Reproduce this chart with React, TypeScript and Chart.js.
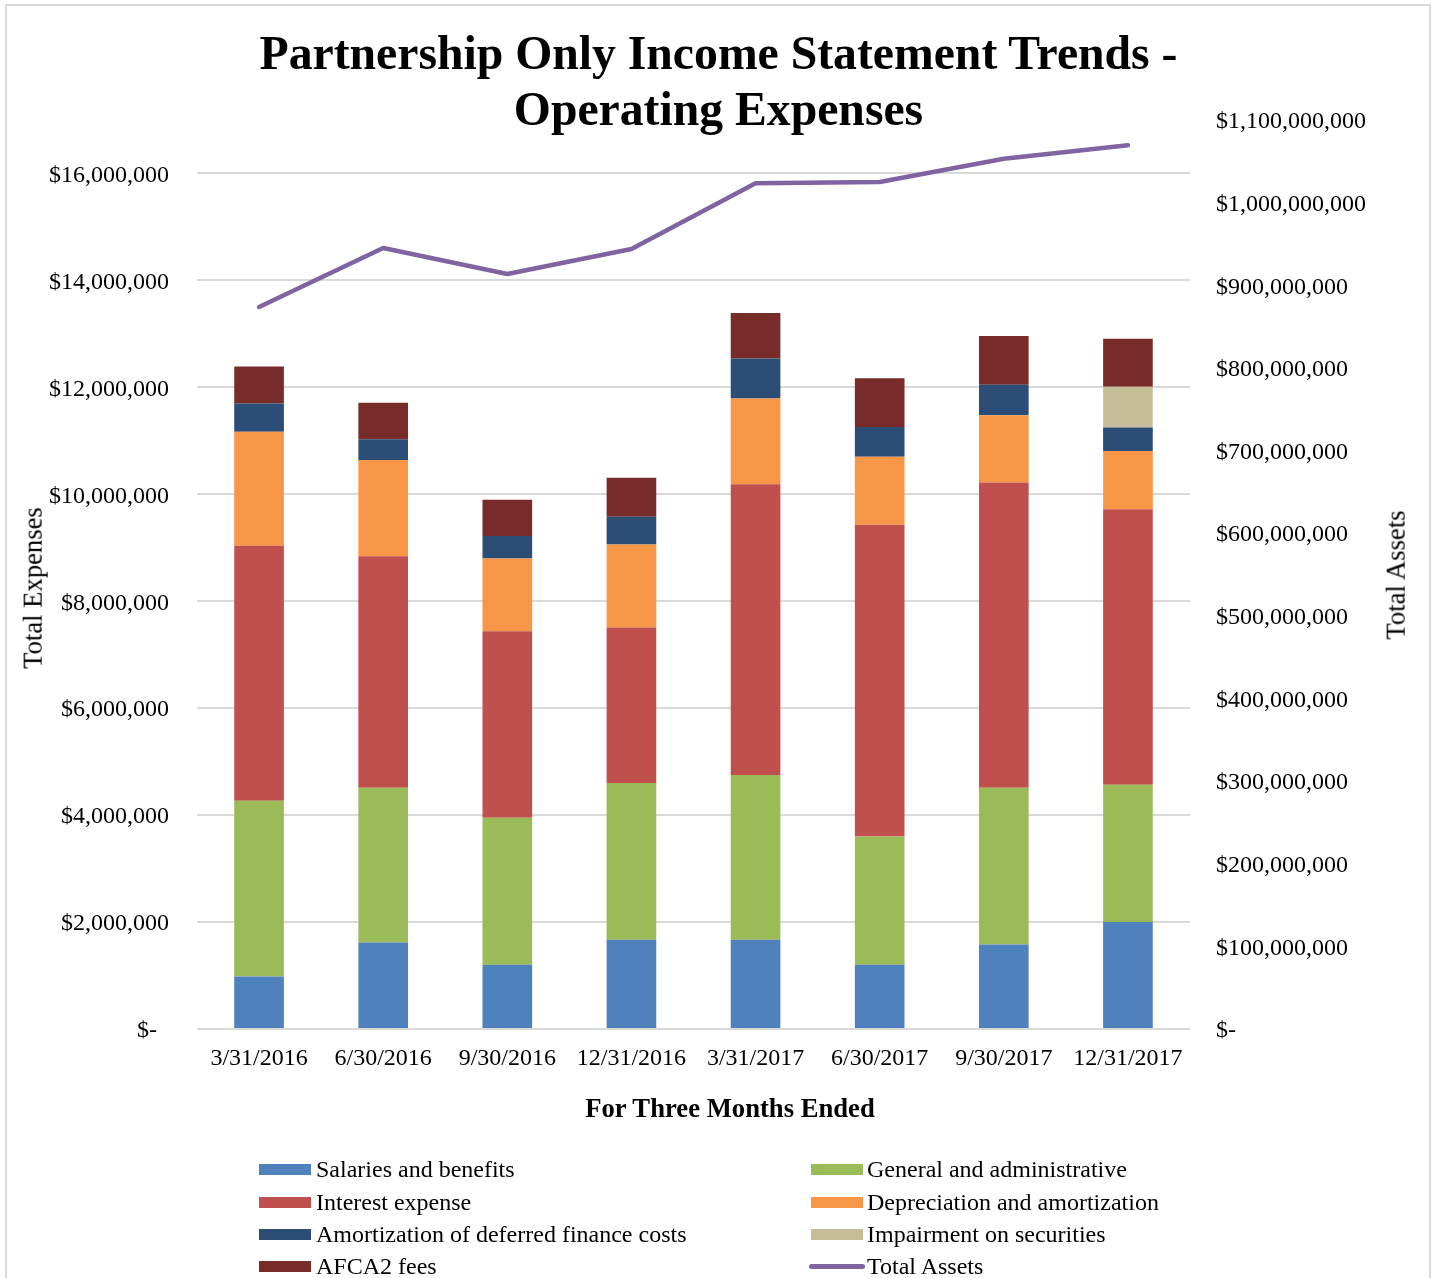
import React, { useEffect, useRef } from 'react';
import { Chart, registerables } from 'chart.js';

Chart.register(...registerables);

const categories = ['3/31/2016', '6/30/2016', '9/30/2016', '12/31/2016', '3/31/2017', '6/30/2017', '9/30/2017', '12/31/2017'];

const salaries = [980000, 1620000, 1200000, 1670000, 1670000, 1200000, 1580000, 2000000];
const generalAdmin = [3290000, 2890000, 2750000, 2930000, 3080000, 2400000, 2930000, 2570000];
const interestExpense = [4770000, 4330000, 3490000, 2910000, 5440000, 5830000, 5710000, 5150000];
const depreciation = [2130000, 1800000, 1360000, 1550000, 1600000, 1270000, 1260000, 1090000];
const amortization = [530000, 390000, 420000, 520000, 750000, 560000, 570000, 440000];
const impairment = [null, null, null, null, null, null, null, 760000];
const afca2Fees = [690000, 680000, 680000, 730000, 850000, 910000, 910000, 900000];
const totalAssets = [873700000, 945100000, 913600000, 943900000, 1023400000, 1025000000, 1053200000, 1069400000];

const leftTickValues = [0, 2000000, 4000000, 6000000, 8000000, 10000000, 12000000, 14000000, 16000000];
const leftAxisMax = 17000000;
const rightTickValues = [0, 100000000, 200000000, 300000000, 400000000, 500000000, 600000000, 700000000, 800000000, 900000000, 1000000000, 1100000000];
const rightAxisMax = 1100000000;

const titleLines = ['Partnership Only Income Statement Trends -', 'Operating Expenses'];
const xTitle = 'For Three Months Ended';
const yLeftTitle = 'Total Expenses';
const yRightTitle = 'Total Assets';

const seriesNames = [
  'Salaries and benefits',
  'General and administrative',
  'Interest expense',
  'Depreciation and amortization',
  'Amortization of deferred finance costs',
  'Impairment on securities',
  'AFCA2 fees',
];
const seriesColors = ['#4F81BD', '#9BBB59', '#C0504D', '#F79646', '#2C4D75', '#C4BD97', '#772C2A'];
const seriesData = [salaries, generalAdmin, interestExpense, depreciation, amortization, impairment, afca2Fees];
const lineName = 'Total Assets';
const lineColor = '#8064A2';

const FONT = "'Liberation Serif', 'Times New Roman', serif";

function money(v: number, padZero: string) {
  if (v === 0) return '$-' + padZero;
  return '$' + Math.round(v).toLocaleString('en-US');
}

export default function App() {
  const ref = useRef<HTMLCanvasElement | null>(null);

  useEffect(() => {
    if (!ref.current) return;
    const barSets = seriesNames.map((name, i) => ({
      type: 'bar' as const,
      label: name,
      data: seriesData[i] as any,
      backgroundColor: seriesColors[i],
      borderWidth: 0,
      yAxisID: 'y',
      stack: 'exp',
      order: 1,
      barPercentage: 0.4,
      categoryPercentage: 1,
    }));
    const chart = new Chart(ref.current, {
      type: 'bar',
      data: {
        labels: categories,
        datasets: [
          {
            type: 'line' as const,
            label: lineName,
            data: totalAssets,
            yAxisID: 'y1',
            borderColor: lineColor,
            backgroundColor: lineColor,
            borderWidth: 4.5,
            pointRadius: 0,
            pointHoverRadius: 0,
            tension: 0,
            order: 0,
            borderCapStyle: 'round',
            borderJoinStyle: 'round',
          } as any,
          ...barSets,
        ],
      },
      options: {
        responsive: false,
        animation: false,
        devicePixelRatio: 1,
        layout: { padding: { top: 120, left: 20, right: 25, bottom: 189 } },
        plugins: {
          legend: { display: false },
          title: { display: false },
          tooltip: { enabled: false },
        },
        scales: {
          x: {
            stacked: true,
            grid: { display: false, drawTicks: false },
            border: { display: false },
            ticks: {
              color: '#000',
              font: { family: FONT, size: 24 },
              padding: 15,
              maxRotation: 0,
              autoSkip: false,
            },
            afterFit: (s: any) => {
              s.height = 60;
            },
          },
          y: {
            stacked: true,
            position: 'left',
            min: 0,
            max: leftAxisMax,
            grid: { color: '#d9d9d9', lineWidth: 2, drawTicks: false },
            border: { display: false },
            ticks: {
              color: '#000',
              font: { family: FONT, size: 24 },
              padding: 28,
              autoSkip: false,
              labelOffset: 2,
              callback: (v: any) => money(Number(v), '  '),
            },
            afterBuildTicks: (s: any) => {
              s.ticks = leftTickValues.map((value) => ({ value }));
            },
            afterFit: (s: any) => {
              s.width = 177;
            },
          },
          y1: {
            position: 'right',
            min: 0,
            max: rightAxisMax,
            grid: { display: false, drawTicks: false },
            border: { display: false },
            ticks: {
              color: '#000',
              font: { family: FONT, size: 24 },
              padding: 26,
              autoSkip: false,
              labelOffset: 2,
              callback: (v: any) => money(Number(v), ''),
            },
            afterBuildTicks: (s: any) => {
              s.ticks = rightTickValues.map((value) => ({ value }));
            },
            afterFit: (s: any) => {
              s.width = 220;
            },
          },
        },
      } as any,
    });
    return () => chart.destroy();
  }, []);

  const legendRows = [1169, 1202, 1234, 1266];
  const legendOrder = [
    { name: seriesNames[0], color: seriesColors[0], col: 0, row: 0, line: false },
    { name: seriesNames[1], color: seriesColors[1], col: 1, row: 0, line: false },
    { name: seriesNames[2], color: seriesColors[2], col: 0, row: 1, line: false },
    { name: seriesNames[3], color: seriesColors[3], col: 1, row: 1, line: false },
    { name: seriesNames[4], color: seriesColors[4], col: 0, row: 2, line: false },
    { name: seriesNames[5], color: seriesColors[5], col: 1, row: 2, line: false },
    { name: seriesNames[6], color: seriesColors[6], col: 0, row: 3, line: false },
    { name: lineName, color: lineColor, col: 1, row: 3, line: true },
  ];
  const colBox = [259, 811];
  const colText = [316, 867];

  return (
    <div
      style={{
        position: 'absolute',
        left: 0,
        top: 0,
        width: 1435,
        height: 1278,
        overflow: 'hidden',
        background: '#fff',
        fontFamily: FONT,
        color: '#000',
      }}
    >
      <div
        style={{
          position: 'absolute',
          left: 5,
          top: 4,
          width: 1426,
          height: 1400,
          boxSizing: 'border-box',
          border: '2px solid #d9d9d9',
        }}
      />
      <canvas ref={ref} width={1435} height={1278} style={{ position: 'absolute', left: 0, top: 0 }} />
      <div
        style={{
          position: 'absolute',
          left: 1,
          top: 25,
          width: 1435,
          textAlign: 'center',
          fontWeight: 'bold',
          fontSize: 47.7,
          lineHeight: '56px',
          whiteSpace: 'nowrap',
        }}
      >
        {titleLines.map((t, i) => (
          <div key={i}>{t}</div>
        ))}
      </div>
      <div
        style={{
          position: 'absolute',
          left: 730,
          top: 1093,
          transform: 'translateX(-50%)',
          fontWeight: 'bold',
          fontSize: 26.67,
          lineHeight: '30px',
          whiteSpace: 'nowrap',
        }}
      >
        {xTitle}
      </div>
      <div
        style={{
          position: 'absolute',
          left: 33,
          top: 588,
          transform: 'translate(-50%, -50%) rotate(-90deg)',
          fontSize: 26.67,
          lineHeight: '26.67px',
          whiteSpace: 'nowrap',
        }}
      >
        {yLeftTitle}
      </div>
      <div
        style={{
          position: 'absolute',
          left: 1396,
          top: 575,
          transform: 'translate(-50%, -50%) rotate(-90deg)',
          fontSize: 26.67,
          lineHeight: '26.67px',
          whiteSpace: 'nowrap',
        }}
      >
        {yRightTitle}
      </div>
      {legendOrder.map((it, i) => {
        const cy = legendRows[it.row];
        return (
          <React.Fragment key={i}>
            {it.line ? (
              <div
                style={{
                  position: 'absolute',
                  left: colBox[it.col] - 2,
                  top: cy - 2.5,
                  width: 56,
                  height: 5,
                  borderRadius: 3,
                  background: it.color,
                }}
              />
            ) : (
              <div
                style={{
                  position: 'absolute',
                  left: colBox[it.col],
                  top: cy - 5.5,
                  width: 52,
                  height: 11,
                  background: it.color,
                }}
              />
            )}
            <div
              style={{
                position: 'absolute',
                left: colText[it.col],
                top: cy - 15,
                height: 30,
                lineHeight: '30px',
                fontSize: 24,
                whiteSpace: 'nowrap',
              }}
            >
              {it.name}
            </div>
          </React.Fragment>
        );
      })}
    </div>
  );
}
